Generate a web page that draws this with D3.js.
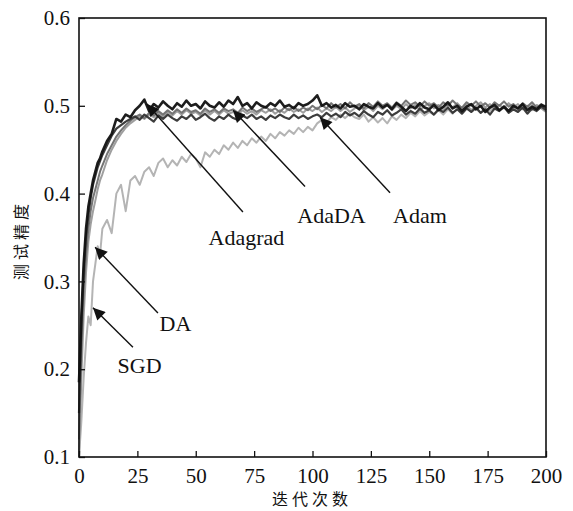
<!DOCTYPE html>
<html><head><meta charset="utf-8">
<script src="https://cdn.jsdelivr.net/npm/d3@7"></script>
<style>body{margin:0;background:#fff}svg{display:block}
.serif{font-family:"Liberation Serif","Times New Roman","DejaVu Serif",serif}
</style>
</head><body>
<svg id="c" width="573" height="511"></svg>
<script>
// ---- data ----
const iterations = [0,1,2,3,4,5,6,7,8,9,10].concat(d3.range(12,201,2));
const sgd = [0.1,0.14,0.19,0.23,0.26,0.25,0.3,0.32,0.34,0.33,0.36,
0.37,0.355,0.4,0.41,0.38,0.415,0.42,0.41,0.425,0.43,0.42,0.435,0.44,0.43,0.438,0.432,0.442,0.436,0.445,0.44,0.43,0.447,0.442,0.45,0.445,0.455,0.45,0.458,0.452,0.46,0.455,0.463,0.458,0.465,0.46,0.468,0.463,0.47,0.466,0.472,0.468,0.475,0.47,0.476,0.472,0.48,0.484,0.481,0.487,0.484,0.49,0.486,0.491,0.487,0.485,0.49,0.482,0.487,0.481,0.486,0.48,0.488,0.484,0.49,0.486,0.492,0.488,0.494,0.489,0.493,0.49,0.495,0.49,0.496,0.491,0.497,0.492,0.498,0.493,0.497,0.492,0.498,0.494,0.499,0.495,0.5,0.494,0.499,0.495,0.5,0.496,0.501,0.495,0.499,0.496];
const da = [0.1,0.19,0.26,0.31,0.345,0.365,0.38,0.392,0.405,0.415,0.422,
0.438,0.45,0.46,0.468,0.475,0.48,0.484,0.488,0.485,0.49,0.487,0.492,0.488,0.493,0.489,0.494,0.49,0.495,0.491,0.493,0.489,0.495,0.49,0.494,0.49,0.495,0.491,0.493,0.489,0.495,0.491,0.494,0.49,0.495,0.492,0.496,0.491,0.495,0.492,0.497,0.493,0.496,0.492,0.497,0.494,0.498,0.493,0.497,0.494,0.499,0.494,0.498,0.493,0.497,0.5,0.495,0.499,0.494,0.5,0.496,0.501,0.495,0.5,0.496,0.502,0.497,0.501,0.495,0.5,0.503,0.497,0.501,0.496,0.502,0.498,0.503,0.497,0.501,0.495,0.5,0.504,0.498,0.502,0.496,0.501,0.497,0.503,0.498,0.502,0.496,0.5,0.495,0.501,0.497,0.493];
const adaDA = [0.12,0.22,0.29,0.33,0.36,0.38,0.395,0.405,0.415,0.425,0.432,
0.445,0.455,0.465,0.472,0.478,0.483,0.487,0.49,0.486,0.492,0.489,0.494,0.49,0.495,0.491,0.496,0.492,0.497,0.493,0.495,0.491,0.497,0.493,0.496,0.492,0.497,0.494,0.496,0.492,0.498,0.494,0.497,0.493,0.496,0.499,0.494,0.497,0.493,0.498,0.495,0.499,0.494,0.498,0.495,0.5,0.496,0.501,0.497,0.503,0.498,0.502,0.497,0.504,0.499,0.502,0.497,0.503,0.499,0.505,0.5,0.503,0.498,0.504,0.5,0.506,0.501,0.504,0.499,0.505,0.5,0.503,0.498,0.504,0.5,0.506,0.501,0.498,0.504,0.5,0.505,0.499,0.503,0.498,0.504,0.5,0.505,0.499,0.502,0.497,0.503,0.499,0.504,0.498,0.502,0.497];
const adam = [0.15,0.25,0.31,0.35,0.375,0.395,0.41,0.42,0.43,0.437,0.444,
0.455,0.466,0.474,0.478,0.482,0.485,0.488,0.484,0.49,0.486,0.482,0.489,0.485,0.49,0.486,0.483,0.488,0.485,0.49,0.484,0.487,0.491,0.486,0.483,0.488,0.485,0.49,0.486,0.484,0.489,0.486,0.49,0.485,0.488,0.484,0.489,0.486,0.49,0.487,0.485,0.49,0.486,0.489,0.485,0.488,0.49,0.487,0.492,0.488,0.491,0.487,0.493,0.489,0.492,0.488,0.494,0.49,0.487,0.493,0.49,0.495,0.489,0.492,0.496,0.49,0.494,0.491,0.497,0.492,0.495,0.49,0.496,0.493,0.498,0.492,0.496,0.491,0.497,0.493,0.498,0.492,0.496,0.49,0.497,0.494,0.499,0.492,0.496,0.493,0.498,0.491,0.497,0.494,0.499,0.495];
const adagrad = [0.185,0.26,0.32,0.36,0.385,0.4,0.415,0.425,0.435,0.44,0.448,
0.46,0.468,0.485,0.482,0.49,0.487,0.495,0.5,0.507,0.494,0.502,0.498,0.505,0.5,0.496,0.503,0.499,0.506,0.5,0.502,0.497,0.505,0.5,0.498,0.504,0.499,0.506,0.502,0.51,0.5,0.503,0.497,0.504,0.5,0.498,0.503,0.5,0.506,0.499,0.501,0.497,0.503,0.5,0.502,0.506,0.512,0.5,0.503,0.498,0.501,0.497,0.503,0.499,0.5,0.496,0.502,0.499,0.497,0.503,0.498,0.501,0.496,0.503,0.499,0.494,0.5,0.497,0.503,0.498,0.496,0.501,0.495,0.499,0.504,0.497,0.5,0.494,0.499,0.502,0.496,0.5,0.493,0.498,0.501,0.495,0.499,0.494,0.5,0.497,0.502,0.495,0.499,0.496,0.501,0.499];
const xTicks = [0,25,50,75,100,125,150,175,200];
const yTicks = [0.1,0.2,0.3,0.4,0.5,0.6];
const seriesNames = ["SGD","DA","AdaDA","Adam","Adagrad"];
const seriesValues = [sgd, da, adaDA, adam, adagrad];
const seriesColors = ["#b0b0b0","#9a9a9a","#6e6e6e","#333333","#111111"];
const seriesWidths = [2,2,2,2.2,2.6];
// annotations: [label, tailX, tailY, tipX, tipY, textX, textY] in data units
const notes = [
  ["Adagrad", 70.2, 0.379, 29.1, 0.502, 55.5, 0.342],
  ["AdaDA", 96.8, 0.408, 66.0, 0.495, 93.5, 0.366],
  ["Adam", 133.2, 0.401, 103.2, 0.487, 134.5, 0.366],
  ["DA", 33.8, 0.264, 6.9, 0.339, 34.5, 0.243],
  ["SGD", 23.1, 0.225, 6.0, 0.270, 16.5, 0.196]
];

// ---- drawing ----
const svg = d3.select("#c");
const x = d3.scaleLinear().domain([0,200]).range([79,546]);
const y = d3.scaleLinear().domain([0.1,0.6]).range([457,18]);
const serif = '"Liberation Serif","Times New Roman","DejaVu Serif",serif';

svg.append("defs").append("marker").attr("id","ah")
  .attr("viewBox","0 0 10 10").attr("refX",10).attr("refY",5)
  .attr("markerWidth",15).attr("markerHeight",12).attr("markerUnits","userSpaceOnUse")
  .attr("orient","auto")
  .append("path").attr("d","M0,0 L10,5 L0,10 Z").attr("fill","#111");

const line = d3.line().x((d,i)=>x(iterations[i])).y(d=>y(d));
const g = svg.append("g");
seriesValues.forEach((vals,k)=>{
  g.append("path").datum(vals).attr("d",line).attr("fill","none")
   .attr("stroke",seriesColors[k]).attr("stroke-width",seriesWidths[k])
   .attr("stroke-linejoin","round").attr("opacity",0.95);
});

// frame
svg.append("rect").attr("x",79).attr("y",18).attr("width",467).attr("height",439)
  .attr("fill","none").attr("stroke","#111").attr("stroke-width",1.6);

const xa = svg.append("g").attr("transform","translate(0,457)")
  .call(d3.axisBottom(x).tickValues(xTicks).tickSize(-6).tickPadding(11).tickFormat(d3.format("d")));
const ya = svg.append("g").attr("transform","translate(79,0)")
  .call(d3.axisLeft(y).tickValues(yTicks).tickSize(-6).tickPadding(9).tickFormat(d3.format(".1f")));
[xa,ya].forEach(a=>{
  a.attr("font-family",null).attr("font-size",null);
  a.select(".domain").remove();
  a.selectAll(".tick line").attr("stroke","#111").attr("stroke-width",1.3);
  a.selectAll("text").style("font-family",serif).style("font-size","21px").attr("fill","#111");
});

// annotations
notes.forEach(n=>{
  svg.append("line").attr("x1",x(n[1])).attr("y1",y(n[2])).attr("x2",x(n[3])).attr("y2",y(n[4]))
    .attr("stroke","#111").attr("stroke-width",1.4).attr("marker-end","url(#ah)");
  svg.append("text").attr("x",x(n[5])).attr("y",y(n[6])).text(n[0])
    .style("font-family",serif).style("font-size","22px").attr("fill","#111");
});

// axis titles
svg.append("text").attr("x",312).attr("y",505).attr("text-anchor","middle")
  .style("font-family",'"Noto Sans CJK SC",sans-serif').style("font-size","16px")
  .attr("letter-spacing",4).attr("fill","#111").text("迭代次数");
svg.append("text").attr("transform","translate(27,240) rotate(-90)").attr("text-anchor","middle")
  .style("font-family",'"Noto Sans CJK SC",sans-serif').style("font-size","16px")
  .attr("letter-spacing",4).attr("fill","#111").text("测试精度");
</script>
</body></html>
